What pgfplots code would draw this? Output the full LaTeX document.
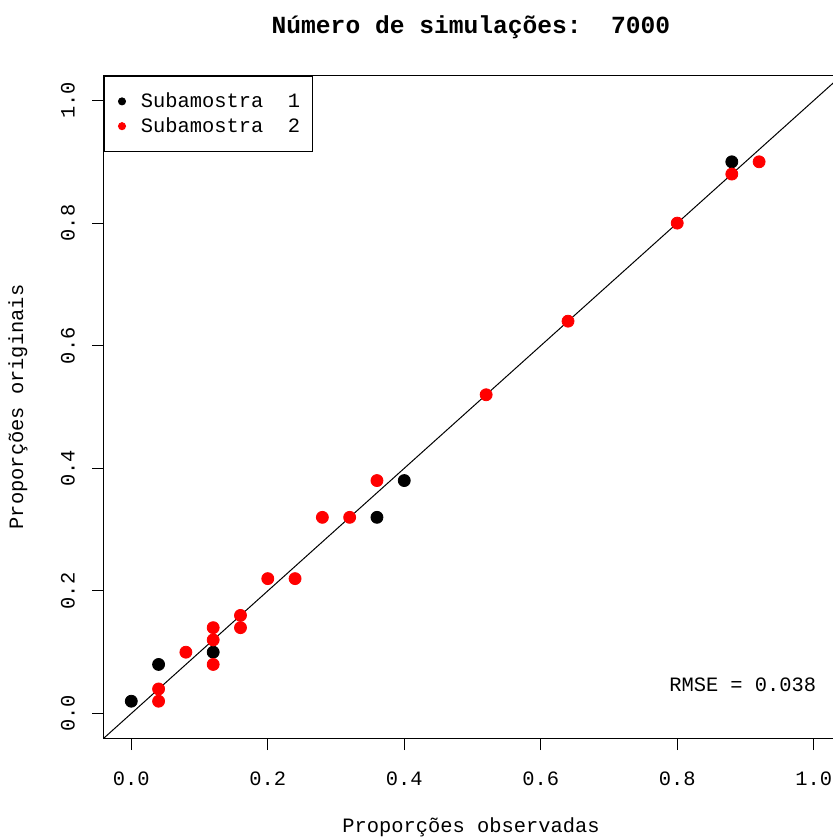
\documentclass[border=0pt]{standalone}
\usepackage{pgfplots}
\pgfplotsset{compat=1.18}
\usepackage{fontspec}
\setmainfont{Liberation Mono}
\begin{document}
\begin{tikzpicture}
\begin{axis}[
  at={(52pt,49.5pt)}, anchor=south west,
  scale only axis, width=368.5pt, height=331pt,
  xmin=-0.04, xmax=1.04, ymin=-0.04, ymax=1.04,
  axis line style={line width=0.5pt},
  xtick={0,0.2,0.4,0.6,0.8,1.0}, ytick={0,0.2,0.4,0.6,0.8,1.0},
  xticklabels={0.0,0.2,0.4,0.6,0.8,1.0},
  yticklabels={0.0,0.2,0.4,0.6,0.8,1.0},
  tick align=outside, major tick length=6pt,
  xtick pos=bottom, ytick pos=left,
  tick style={black, line width=0.5pt},
  ticklabel style={font=\fontsize{10.2}{12}\selectfont},
  /pgf/number format/assume math mode=true,
  x tick label style={anchor=north, yshift=-7.5pt},
  y tick label style={rotate=90, anchor=south, yshift=5pt},
  clip=true,
  legend style={at={(0,1)}, anchor=north west, draw=black, line width=0.5pt,
    font=\fontsize{10.2}{12}\selectfont, inner xsep=4pt, inner ysep=6pt,
    column sep=5.75pt, row sep=-0.5pt, cells={anchor=west, inner xsep=0pt}},
  legend image code/.code={\path[draw=none, fill=none] (-4.75pt,-0.5pt) rectangle (1.75pt,0.5pt); \draw[#1, mark size=1.75pt] plot coordinates {(0cm,0cm)};},
]
\addplot[no marks, black, line width=0.5pt, forget plot] coordinates {(-0.1,-0.1) (1.1,1.1)};
\addplot[only marks, mark=*, mark size=3pt, black, mark options={draw=black, fill=black}] coordinates {
(0,0.02) (0.04,0.08) (0.12,0.10) (0.36,0.32) (0.40,0.38) (0.88,0.90)
};
\addlegendentry{Subamostra\ \ 1}
\addplot[only marks, mark=*, mark size=3pt, red, mark options={draw=red, fill=red}] coordinates {
(0.04,0.04) (0.04,0.02) (0.08,0.10) (0.12,0.14) (0.12,0.12) (0.12,0.08)
(0.16,0.16) (0.16,0.14) (0.20,0.22) (0.24,0.22) (0.28,0.32) (0.32,0.32)
(0.36,0.38) (0.52,0.52) (0.64,0.64) (0.80,0.80) (0.88,0.88) (0.92,0.90)
};
\addlegendentry{Subamostra\ \ 2}
\node[font=\fontsize{10.2}{12}\selectfont] at (axis cs:0.896,0.047) {RMSE = 0.038};
\end{axis}
\node[font=\fontsize{12.3}{14}\selectfont\bfseries] at (235.5pt,405pt) {Número de simulações:\ \ 7000};
\node[font=\fontsize{10.2}{12}\selectfont] at (235.5pt,5pt) {Proporções observadas};
\node[font=\fontsize{10.2}{12}\selectfont, rotate=90] at (9pt,215pt) {Proporções originais};
\pgfresetboundingbox
\useasboundingbox (0,0) rectangle (416pt,418.5pt);
\end{tikzpicture}
\end{document}
